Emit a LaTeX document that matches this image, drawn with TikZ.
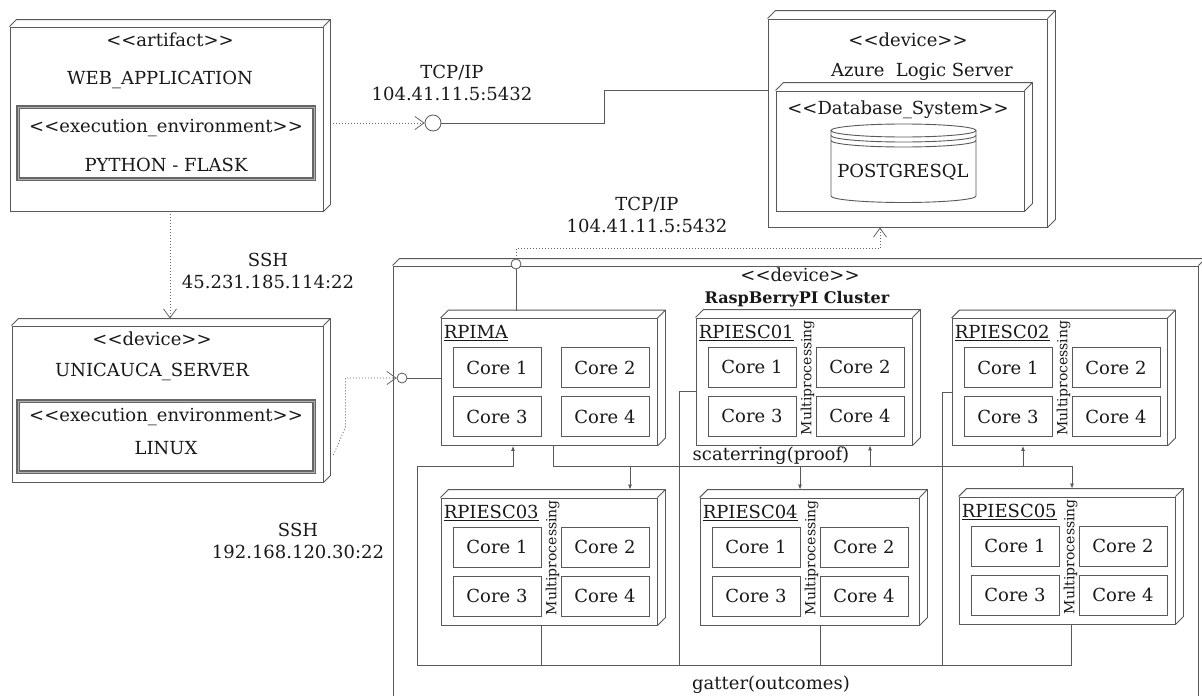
\documentclass[tikz,border=0pt]{standalone}
\usepackage{fontspec}
\setmainfont{DejaVu Serif}
\usetikzlibrary{calc,arrows.meta}

\tikzset{
  box/.style={draw=black!65, line width=0.9pt, fill=white, inner sep=0pt},
  edge3d/.style={draw=black!65, line width=0.9pt},
  execbox/.style={draw=black!60, double=black!30, double distance=1pt, line width=1.1pt, inner sep=0pt},
  core/.style={draw=black!65, line width=0.8pt, inner sep=0pt, minimum width=88pt, minimum height=40pt},
  link/.style={draw=black!65, line width=0.8pt},
  dep/.style={draw=black!60, line width=0.8pt, dash pattern=on 1pt off 2pt, -{Straight Barb[length=9pt,width=13pt]}},
  port/.style={circle, draw=black!65, line width=0.8pt, fill=white, inner sep=0pt},
  flow/.style={link, -{Latex[length=5pt,width=4pt]}},
}
% stereotype text and 3d faces of a node
\newcommand\stereo[1]{<\kern0pt<#1>\kern0pt>}
\newcommand\boxdepth[2]{%
  \draw[edge3d] (#1.north west) -- ++(#2,-#2) -- ($(#1.north east)+(#2,-#2)$) -- ($(#1.south east)+(#2,-#2)$) -- (#1.south east) (#1.north east) -- ++(#2,-#2);}

\begin{document}
\begin{tikzpicture}[x=1pt, y=-1pt, font=\fontsize{18pt}{21.6pt}\selectfont, text=black!90]
    \useasboundingbox (0,0) rectangle (1202,696);
    % web application
    \node[box, minimum width=313pt, minimum height=184pt] (web) at (166.5,119) {};
    \boxdepth{web}{7}
    \node (web-st) at (170,40) {\stereo{artifact}};
    \node (web-name) at (160,80) {WEB\_APPLICATION};
    \node[execbox, minimum width=296pt, minimum height=72pt] (flask) at (166,143) {};
    \node (flask-st) at (166,128) {\stereo{execution\_environment}};
    \node (flask-name) at (166,165) {PYTHON - FLASK};
    % azure server
    \node[box, minimum width=279pt, minimum height=208pt] (azure) at (907.5,123) {};
    \boxdepth{azure}{8}
    \node (az-st) at (908,40) {\stereo{device}};
    \node (az-name) at (922,72) {Azure\ \ Logic Server};
    \node[box, minimum width=248pt, minimum height=120pt] (dbsys) at (900,151) {};
    \boxdepth{dbsys}{8}
    \node (db-st) at (898,110) {\stereo{Database\_System}};
    % database cylinder
    \draw[box] (831,130.5) -- (831,196) arc[start angle=180, end angle=0, x radius=72.5, y radius=6.5] -- (976,130.5);
    \draw[edge3d] (903.5,130.5) ellipse[x radius=72.5, y radius=6.5];
    \draw[edge3d] (831,135.5) arc[start angle=180, end angle=0, x radius=72.5, y radius=6.5];
    \draw[edge3d] (831,140.5) arc[start angle=180, end angle=0, x radius=72.5, y radius=6.5];
    \node (pg) at (903,172) {POSTGRESQL};
    % web -> azure
    \node[port, minimum size=16pt] (ifweb) at (433,123) {};
    \node[align=center] (tcp1) at (452,83) {TCP/IP\\104.41.11.5:5432};
    \draw[dep] ($(web.east |- ifweb)+(10,0)$) -- (ifweb.west);
    \draw[link] (ifweb.east) -- ++(163,0) |- ($(azure.west)+(0,-33)$);
    % unicauca server
    \node[box, minimum width=311pt, minimum height=156pt] (uni) at (167.5,404) {};
    \boxdepth{uni}{7}
    \node (uni-st) at (152,339) {\stereo{device}};
    \node (uni-name) at (152,372) {UNICAUCA\_SERVER};
    \node[execbox, minimum width=296pt, minimum height=71pt] (linux) at (166,436.5) {};
    \node (linux-st) at (166,417) {\stereo{execution\_environment}};
    \node (linux-name) at (166,448) {LINUX};
    \draw[dep] ($(web.south)+(3.5,0)$) -- ($(web.south |- uni.north)+(3.5,-7)$);
    \node[align=center] (ssh1) at (268,271) {SSH\\45.231.185.114:22};
    % cluster
    \node[box, minimum width=805pt, minimum height=460pt] (cluster) at (795.5,496) {};
    \boxdepth{cluster}{7}
    \node (cl-st) at (800,275) {\stereo{device}};
    \node[font=\fontsize{16pt}{18pt}\selectfont\bfseries] (cl-name) at (797,299) {RaspBerryPI Cluster};
    \foreach \n/\x/\y/\w in {rpima/549/382/216, rpi1/804/381.5/216, rpi2/1059.5/382/215,
                             rpi3/549/561.5/216, rpi4/809.5/561.5/219, rpi5/1067/560.5/216} {
      \node[box, minimum width=\w pt, minimum height=127pt] (\n) at (\x,\y) {};
      \boxdepth{\n}{8}
    }
    \foreach \n/\t in {rpima/RPIMA, rpi1/RPIESC01, rpi2/RPIESC02, rpi3/RPIESC03, rpi4/RPIESC04, rpi5/RPIESC05} {
      \node[anchor=west, inner sep=0pt] (\n-lbl) at ($(\n.north west)+(3,15)$) {\underline{\t}};
      \node[core, anchor=north west] (\n-c1) at ($(\n.north west)+(12,29)$) {Core 1};
      \node[core, anchor=north west] (\n-c2) at ($(\n.north west)+(120,29)$) {Core 2};
      \node[core, anchor=north west] (\n-c3) at ($(\n.north west)+(12,78)$) {Core 3};
      \node[core, anchor=north west] (\n-c4) at ($(\n.north west)+(120,78)$) {Core 4};
    }
    \foreach \n in {rpi1,rpi2,rpi3,rpi4,rpi5}
      \node[rotate=90, inner sep=0pt, font=\fontsize{14pt}{16pt}\selectfont] (\n-mp) at ($(\n.north west)+(112,60)$) {Multiprocessing};
    % ssh into the master
    \node[port, minimum size=10pt] (ifssh) at (402,378) {};
    \node[align=center] (ssh2) at (298,541) {SSH\\192.168.120.30:22};
    \draw[dep] ($(uni.east)+(10,51)$) -- ++(12,-28) |- (ifssh.west);
    \draw[link] (ifssh.east) -- (ifssh -| rpima.west);
    % master -> database
    \node[port, minimum size=10pt] (ifdb) at (516,264) {};
    \node[align=center] (tcp2) at (647,215) {TCP/IP\\104.41.11.5:5432};
    \draw[link] (ifdb.south) -- ($(ifdb |- rpima.north)+(0,-7)$);
    \draw[dep] (ifdb.north) -- ++(0,-10) -| ($(azure.south)+(-27.5,0)$);
    % scatter
    \coordinate (scat) at (417,466);
    \coordinate (gath) at (417,665);
    \draw[flow] ($(rpima.south)+(4,0)$) |- ($(rpi5.north |- scat)+(5,0)$) -- ($(rpi5.north)+(5,-8)$);
    \draw[flow] ($(rpi3.north |- scat)+(81,0)$) -- ($(rpi3.north)+(81,-8)$);
    \draw[flow] ($(rpi4.north |- scat)+(-9.5,0)$) -- ($(rpi4.north)+(-9.5,-8)$);
    \draw[flow] ($(rpi1.south |- scat)+(66,0)$) -- ($(rpi1.south)+(66,0)$);
    \draw[flow] ($(rpi2.south |- scat)+(-36.5,0)$) -- ($(rpi2.south)+(-36.5,0)$);
    \node (scat-lbl) at (771,456) {scaterring(proof)};
    % gather
    \draw[flow] ($(rpi5.south)+(4,0)$) |- (gath) -- (scat) -| ($(rpima.south)+(-36,0)$);
    \draw[link] ($(rpi3.south)+(-8,0)$) -- ($(rpi3.south |- gath)+(-8,0)$);
    \draw[link] ($(rpi4.south)+(10.5,0)$) -- ($(rpi4.south |- gath)+(10.5,0)$);
    \draw[link] ($(rpi1.west)+(0,10)$) -| ($(rpi1.west |- gath)+(-16,0)$);
    \draw[link] ($(rpi2.west)+(0,10)$) -| ($(rpi2.west |- gath)+(-9,0)$);
    \node (gath-lbl) at (771,685) {gatter(outcomes)};
\end{tikzpicture}
\end{document}
